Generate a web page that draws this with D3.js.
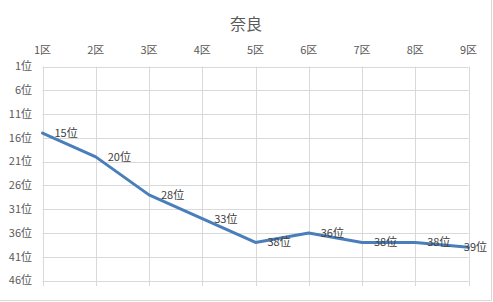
<!DOCTYPE html>
<html><head><meta charset="utf-8">
<script src="https://cdn.jsdelivr.net/npm/d3@7"></script>
<style>body{margin:0;background:#fff}svg{display:block}text{font-family:"Noto Sans CJK JP","Noto Sans",sans-serif}</style>
</head><body>
<script>
const title = "奈良";
const categories = ["1区","2区","3区","4区","5区","6区","7区","8区","9区"];
const ranks = [15,20,28,33,38,36,38,38,39];
const yTicks = [1,6,11,16,21,26,31,36,41,46];
const rankSuffix = "位";

const W = 493, H = 302;
const svg = d3.select("body").append("svg").attr("width", W).attr("height", H);

// chart border (right / bottom edges visible)
svg.append("line").attr("x1",491.5).attr("x2",491.5).attr("y1",0).attr("y2",301).attr("stroke","#d9d9d9");
svg.append("line").attr("x1",0).attr("x2",492).attr("y1",300.5).attr("y2",300.5).attr("stroke","#d9d9d9");

const x = d3.scalePoint().domain(categories).range([42.5, 468.5]);
const y = d3.scaleLinear().domain([1, 46]).range([66.5, 280.5]);

// horizontal gridlines
svg.append("g").selectAll("line").data(yTicks).join("line")
  .attr("x1", 42.5).attr("x2", 468.5)
  .attr("y1", d => Math.round(y(d)) + 0.5).attr("y2", d => Math.round(y(d)) + 0.5)
  .attr("stroke", "#d9d9d9");
// vertical gridlines
svg.append("g").selectAll("line").data(categories).join("line")
  .attr("x1", d => Math.round(x(d)) + 0.5).attr("x2", d => Math.round(x(d)) + 0.5)
  .attr("y1", 66.5).attr("y2", 286)
  .attr("stroke", "#d9d9d9");

// title
svg.append("text").attr("x", 246).attr("y", 30).attr("text-anchor","middle")
  .attr("font-size", 16).attr("fill", "#595959").text(title);

// y axis labels
svg.append("g").selectAll("text").data(yTicks).join("text")
  .attr("x", 32).attr("y", d => y(d)).attr("dy", "0.35em").attr("text-anchor","end")
  .attr("font-size", 11).attr("fill", "#595959").text(d => d + rankSuffix);

// x axis labels (top)
svg.append("g").selectAll("text").data(categories).join("text")
  .attr("x", d => x(d)).attr("y", 50).attr("dy", "0.35em").attr("text-anchor","middle")
  .attr("font-size", 11).attr("fill", "#595959").text(d => d);

const data = categories.map((c, i) => ({c, v: ranks[i]}));

svg.append("path").datum(data)
  .attr("fill","none").attr("stroke","#4a7ebb").attr("stroke-width",3)
  .attr("stroke-linejoin","round").attr("stroke-linecap","round")
  .attr("d", d3.line().x(d => x(d.c)).y(d => y(d.v)));

// data labels
const lbl = svg.append("g").selectAll("text").data(data).join("text")
  .attr("y", d => y(d.v)).attr("dy", "0.35em")
  .attr("font-size", 11).attr("fill", "#404040").text(d => d.v + rankSuffix);
lbl.each(function(d){
  const w = this.getComputedTextLength();
  let lx = x(d.c) + 12;
  if (lx + w > 487) lx = 487 - w;
  d3.select(this).attr("x", lx);
});
</script>
</body></html>
